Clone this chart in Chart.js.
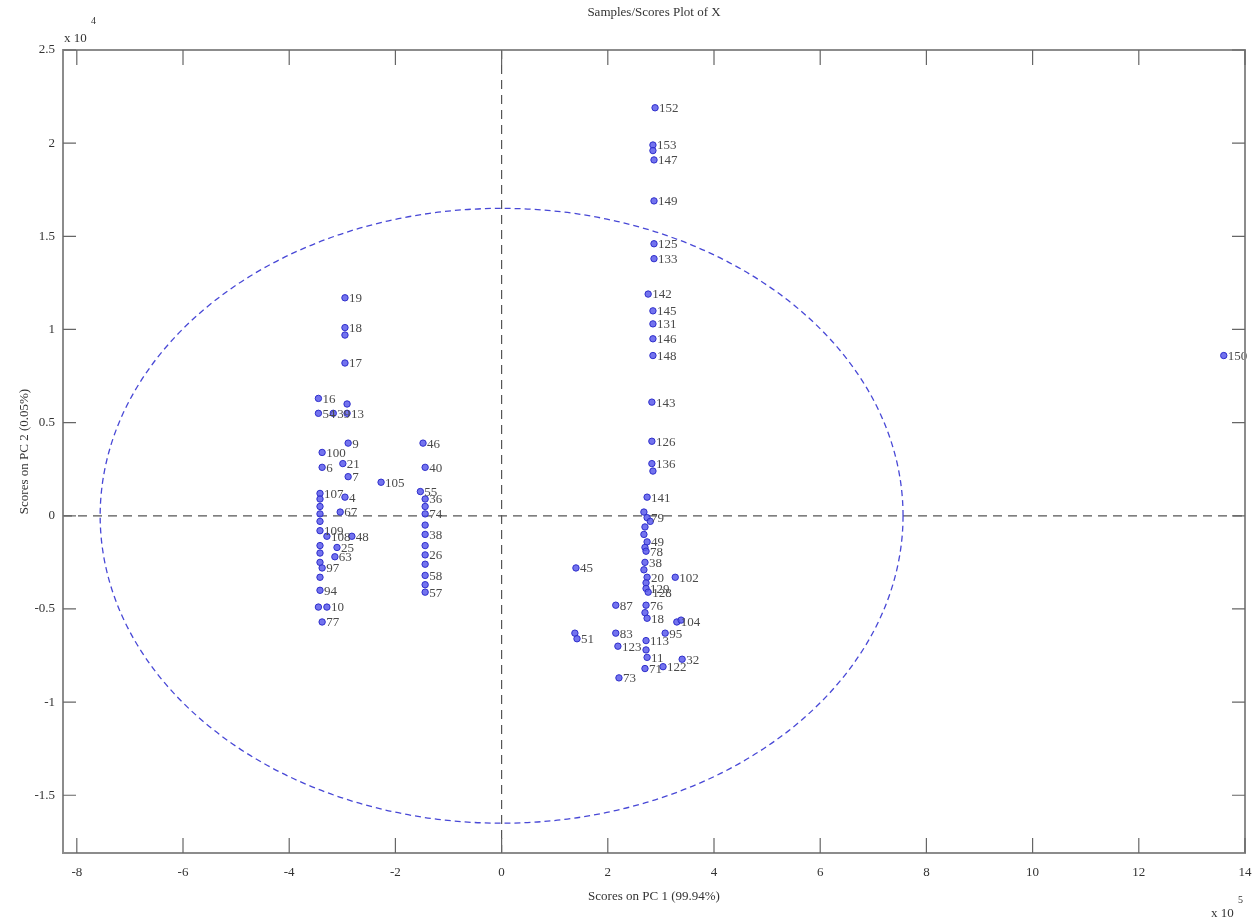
<!DOCTYPE html>
<html>
<head>
<meta charset="utf-8">
<script src="https://cdn.jsdelivr.net/npm/chart.js@4/dist/chart.umd.min.js"></script>
<style>
html,body{margin:0;padding:0;background:#fff;}
#c{display:block;}
</style>
</head>
<body>
<canvas id="c" width="1252" height="921"></canvas>
<script>
// ---- data (PC1 in units of 1e5, PC2 in units of 1e4) ----
const sampleIds = [
  "152","153","","147","149","125","133","142","145","131","146","148","143","126","136","",
  "141","","79","","","","49","","78","38","","20","102","45","","129","128","87","76","",
  "18","104","","","51","83","95","113","123","","11","71","122","32","73",
  "19","18","","17","16","","54","39","13","9","100","21","6","7","107","4","","","","67",
  "","109","48","108","","25","","63","","97","","94","","10","77",
  "46","40","55","36","","74","","38","","26","","58","","57","105","150"
];
const pc1 = [
  2.89,2.85,2.85,2.87,2.87,2.87,2.87,2.76,2.85,2.85,2.85,2.85,2.83,2.83,2.83,2.85,
  2.74,2.68,2.74,2.80,2.70,2.68,2.74,2.70,2.72,2.70,2.68,2.74,3.27,1.40,2.72,2.72,2.76,2.15,2.72,2.70,
  2.74,3.30,3.38,1.38,1.42,2.15,3.08,2.72,2.19,2.72,2.74,2.70,3.04,3.40,2.21,
  -2.95,-2.95,-2.95,-2.95,-3.45,-2.91,-3.45,-3.17,-2.91,-2.89,-3.38,-2.99,-3.38,-2.89,-3.42,-2.95,-3.42,-3.42,-3.42,-3.04,
  -3.42,-3.42,-2.82,-3.29,-3.42,-3.10,-3.42,-3.14,-3.42,-3.38,-3.42,-3.42,-3.45,-3.29,-3.38,
  -1.48,-1.44,-1.53,-1.44,-1.44,-1.44,-1.44,-1.44,-1.44,-1.44,-1.44,-1.44,-1.44,-1.44,-2.27,13.60
];
const pc2 = [
  2.19,1.99,1.96,1.91,1.69,1.46,1.38,1.19,1.10,1.03,0.95,0.86,0.61,0.40,0.28,0.24,
  0.10,0.02,-0.01,-0.03,-0.06,-0.10,-0.14,-0.17,-0.19,-0.25,-0.29,-0.33,-0.33,-0.28,-0.36,-0.39,-0.41,-0.48,-0.48,-0.52,
  -0.55,-0.57,-0.56,-0.63,-0.66,-0.63,-0.63,-0.67,-0.70,-0.72,-0.76,-0.82,-0.81,-0.77,-0.87,
  1.17,1.01,0.97,0.82,0.63,0.60,0.55,0.55,0.55,0.39,0.34,0.28,0.26,0.21,0.12,0.10,0.09,0.05,0.01,0.02,
  -0.03,-0.08,-0.11,-0.11,-0.16,-0.17,-0.20,-0.22,-0.25,-0.28,-0.33,-0.40,-0.49,-0.49,-0.57,
  0.39,0.26,0.13,0.09,0.05,0.01,-0.05,-0.10,-0.16,-0.21,-0.26,-0.32,-0.37,-0.41,0.18,0.86
];
const xTicks = [-8,-6,-4,-2,0,2,4,6,8,10,12,14];
const yTicks = [-1.5,-1,-0.5,0,0.5,1,1.5,2,2.5];
const xRange = [-8.26, 14];
const yRange = [-1.81, 2.5];
const ellipseRadii = [7.56, 1.65];   // 95% confidence limit (PC1, PC2)

const chartTitle = "Samples/Scores Plot of X";
const xTitle = "Scores on PC 1 (99.94%)";
const yTitle = "Scores on PC 2 (0.05%)";
const xExp = "5", yExp = "4";

const SERIF = "'Liberation Serif','DejaVu Serif',serif";

const decor = {
  id: 'decor',
  beforeDraw(chart) {
    const c = chart.ctx;
    c.save();
    c.fillStyle = '#fff';
    c.fillRect(0, 0, chart.width, chart.height);
    c.restore();
  },
  beforeDatasetsDraw(chart) {
    const c = chart.ctx, a = chart.chartArea, x = chart.scales.x, y = chart.scales.y;
    const x0 = x.getPixelForValue(0), y0 = y.getPixelForValue(0);
    c.save();
    c.strokeStyle = '#555';
    c.lineWidth = 1.2;
    c.setLineDash([9, 6]);
    c.beginPath();
    c.moveTo(x0, a.top); c.lineTo(x0, a.bottom);
    c.moveTo(a.left, y0); c.lineTo(a.right, y0);
    c.stroke();
    const rx = x.getPixelForValue(ellipseRadii[0]) - x0;
    const ry = y0 - y.getPixelForValue(ellipseRadii[1]);
    c.strokeStyle = '#4848d6';
    c.lineWidth = 1.3;
    c.setLineDash([6, 4]);
    c.beginPath();
    c.ellipse(x0, y0, rx, ry, 0, 0, Math.PI * 2);
    c.stroke();
    c.restore();
  },
  afterDatasetsDraw(chart) {
    const c = chart.ctx, meta = chart.getDatasetMeta(0);
    c.save();
    c.font = "13px " + SERIF;
    c.fillStyle = '#4a4a4a';
    c.textBaseline = 'middle';
    c.textAlign = 'left';
    meta.data.forEach((pt, i) => {
      if (sampleIds[i]) c.fillText(sampleIds[i], pt.x + 4, pt.y + 1);
    });
    c.restore();
  },
  afterDraw(chart) {
    const c = chart.ctx, a = chart.chartArea, x = chart.scales.x, y = chart.scales.y;
    c.save();
    c.setLineDash([]);
    c.strokeStyle = '#8c8c8c';
    c.lineWidth = 2;
    c.strokeRect(a.left, a.top, a.right - a.left, a.bottom - a.top);
    c.lineWidth = 1.2;
    c.strokeStyle = '#666';
    c.beginPath();
    xTicks.forEach(v => {
      const px = x.getPixelForValue(v);
      c.moveTo(px, a.bottom); c.lineTo(px, a.bottom - 15);
      c.moveTo(px, a.top); c.lineTo(px, a.top + 15);
    });
    yTicks.forEach(v => {
      const py = y.getPixelForValue(v);
      c.moveTo(a.left, py); c.lineTo(a.left + 13, py);
      c.moveTo(a.right, py); c.lineTo(a.right - 13, py);
    });
    c.stroke();
    c.fillStyle = '#333';
    c.font = "13px " + SERIF;
    c.textAlign = 'center';
    c.textBaseline = 'middle';
    c.fillText(chartTitle, (a.left + a.right) / 2, 13);
    c.fillText(xTitle, (a.left + a.right) / 2, 897);
    c.save();
    c.translate(25, (a.top + a.bottom) / 2);
    c.rotate(-Math.PI / 2);
    c.fillText(yTitle, 0, 0);
    c.restore();
    c.textAlign = 'left';
    c.textBaseline = 'alphabetic';
    c.font = "13px " + SERIF;
    c.fillText("x 10", 64, 42);
    c.font = "10px " + SERIF;
    c.fillText(yExp, 91, 24);
    c.font = "13px " + SERIF;
    c.fillText("x 10", 1211, 917);
    c.font = "10px " + SERIF;
    c.fillText(xExp, 1238, 903);
    c.restore();
  }
};

const points = pc1.map((v, i) => ({ x: v, y: pc2[i] }));

new Chart(document.getElementById('c'), {
  type: 'scatter',
  data: {
    datasets: [{
      data: points,
      pointRadius: 3.2,
      pointBackgroundColor: 'rgba(90,90,235,0.85)',
      pointBorderColor: '#2f2fcc',
      pointBorderWidth: 1
    }]
  },
  options: {
    responsive: false,
    animation: false,
    devicePixelRatio: 1,
    layout: { padding: { top: 50, right: 7, left: 0, bottom: 0 } },
    plugins: { legend: { display: false }, tooltip: { enabled: false }, title: { display: false } },
    scales: {
      x: {
        type: 'linear', min: xRange[0], max: xRange[1],
        afterBuildTicks: s => { s.ticks = xTicks.map(v => ({ value: v })); },
        afterFit: s => { s.height = 68; s.paddingLeft = 0; s.paddingRight = 0; },
        grid: { display: false, drawTicks: false },
        border: { display: false },
        ticks: { padding: 12, color: '#333', font: { family: SERIF, size: 13 }, maxRotation: 0, autoSkip: false,
                 callback: v => String(v) }
      },
      y: {
        type: 'linear', min: yRange[0], max: yRange[1],
        afterBuildTicks: s => { s.ticks = yTicks.map(v => ({ value: v })); },
        afterFit: s => { s.width = 63; s.paddingTop = 0; s.paddingBottom = 0; },
        grid: { display: false, drawTicks: false },
        border: { display: false },
        ticks: { padding: 8, color: '#333', font: { family: SERIF, size: 13 }, autoSkip: false,
                 callback: v => String(v) }
      }
    }
  },
  plugins: [decor]
});
</script>
</body>
</html>
